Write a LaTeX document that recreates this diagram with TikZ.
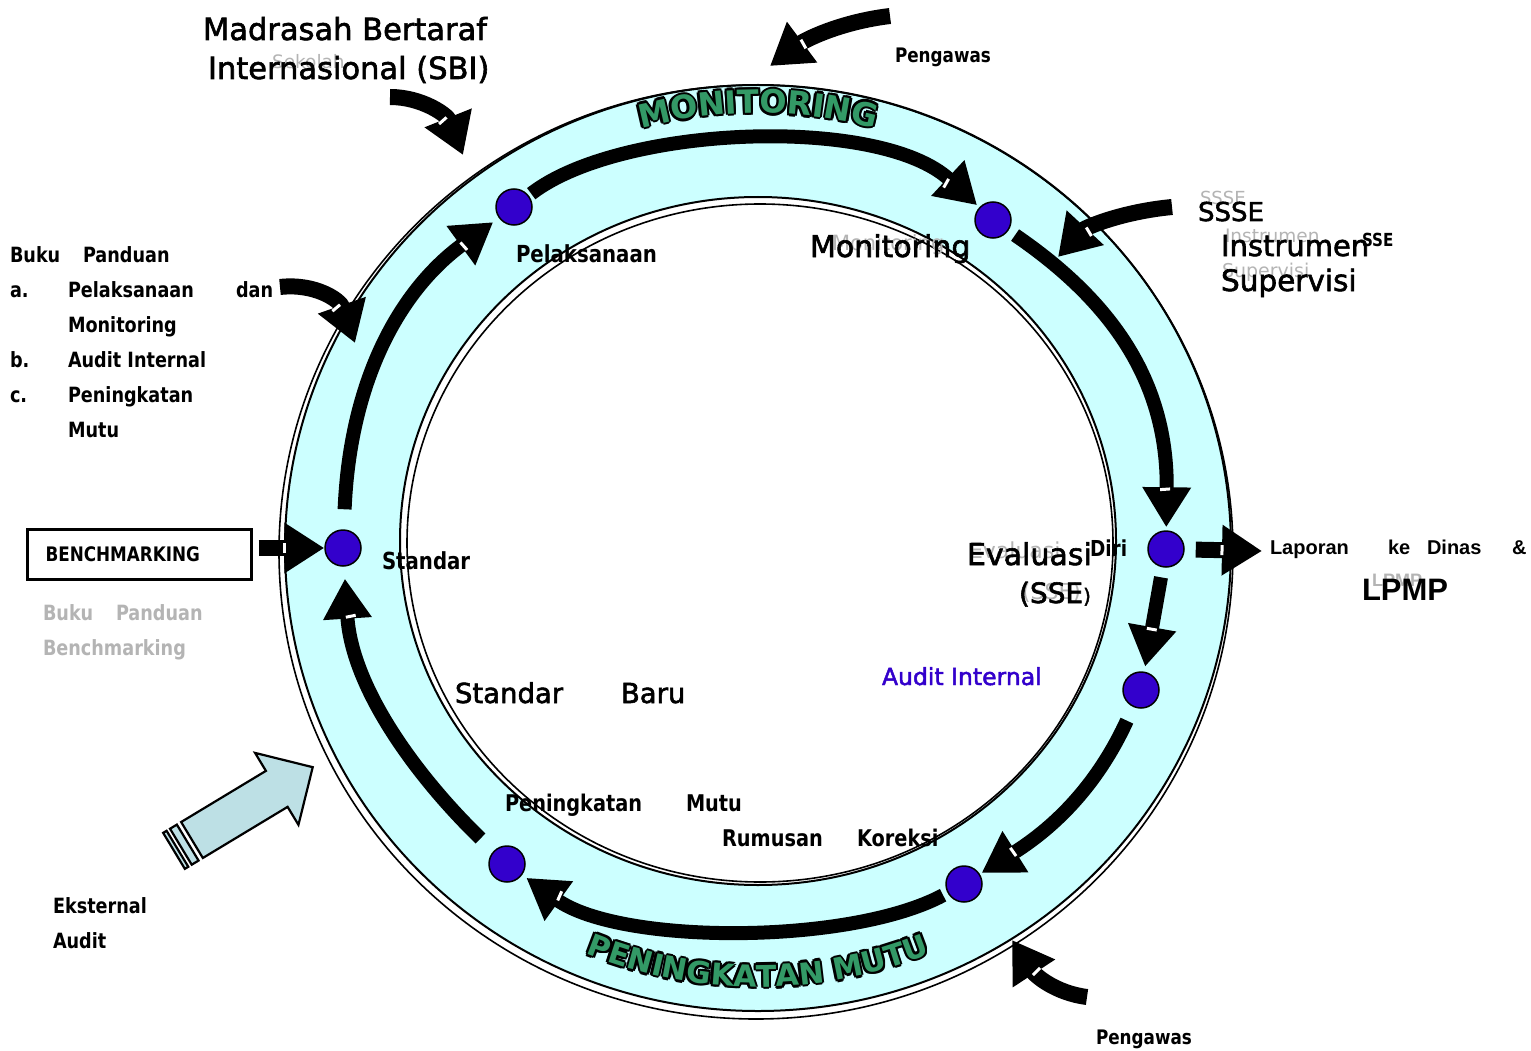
\documentclass[tikz,border=0pt]{standalone}
\usepackage{fontspec}
\setmainfont{DejaVu Sans}
\newfontfamily\regf{DejaVu Sans}[FakeBold=2]
\newfontfamily\boldf{DejaVu Sans}[FakeStretch=0.84]
\newfontfamily\arialf{Liberation Sans}
\usetikzlibrary{arrows.meta,decorations.text,decorations.markings}
\newcommand\fsz[1]{\fontsize{#1pt}{#1pt}\selectfont}
\definecolor{ringcyan}{HTML}{CCFFFF}
\definecolor{dotblue}{HTML}{3300CC}
\definecolor{ringgreen}{HTML}{339966}
\definecolor{extblue}{HTML}{BDE0E5}
\definecolor{ghostgray}{HTML}{B4B4B4}
\newcommand\ringtext[3]{%
  \foreach \dx/\dy in {2.3/0,-2.3/0,0/2.3,0/-2.3,1.7/1.7,-1.7/1.7,1.7/-1.7,-1.7/-1.7}{%
    \path[shift={(\dx,\dy)}, decorate, decoration={text along path, text align=center, text color=black,
      text={|\bfseries\fsz{#3}|#2}}] #1;}
  \path[decorate, decoration={text along path, text align=center, text color=ringgreen,
      text={|\bfseries\fsz{#3}|#2}}] #1;
}
\begin{document}
\begin{tikzpicture}[x=1pt,y=1pt,
  lbl/.style={anchor=base west, inner sep=0pt, outer sep=0pt},
  reg/.style={lbl, font=\regf\fsz{#1}},
  bld/.style={lbl, font=\boldf\bfseries\fsz{#1}},
  arl/.style={lbl, font=\arialf\bfseries\fsz{#1}},
  ghost/.style={lbl, text=ghostgray, font=\fsz{#1}},
  ghostb/.style={lbl, text=ghostgray, font=\boldf\bfseries\fsz{#1}},
  dot/.style={circle, fill=dotblue, draw=black, line width=1.5pt, minimum size=36pt, inner sep=0pt},
  flow/.style={line width=14pt, -{Triangle[length=40pt,width=46pt]}},
  feed/.style={line width=16pt, -{Triangle[length=40pt,width=48pt]}},
  notch/.style={postaction={decorate, decoration={markings,
      mark=at position #1 with {\fill[white] (-1.5pt,-5pt) rectangle (1.5pt,5pt);}}}},
  ringline/.style={line width=2pt},
]
\fill[white] (0,-1051) rectangle (1531,0);
\useasboundingbox (0,-1051) rectangle (1531,0);

% ring
\fill[ringcyan] (758,-548) ellipse[x radius=473, y radius=463];
\draw[ringline] (758,-548) ellipse[x radius=473, y radius=463];
\draw[line width=1.6pt] (756,-552) ellipse[x radius=477, y radius=467];
\fill[white] (758,-541) ellipse[x radius=358, y radius=344];
\draw[ringline] (758,-541) ellipse[x radius=358, y radius=344];
\draw[line width=1.6pt] (760,-543) ellipse[x radius=353, y radius=339];

% ring titles
\ringtext{(758,-548) ++(140:445 and 435) arc[start angle=140, end angle=40, x radius=445, y radius=435]}{MONITORING}{32}
\ringtext{(758,-548) ++(215:450 and 439) arc[start angle=215, end angle=325, x radius=450, y radius=439]}{PENINGKATAN MUTU}{30}

% cycle nodes
\node[dot] (std) at (343,-548) {};
\node[dot] (pel) at (514,-207) {};
\node[dot] (mon) at (993,-220) {};
\node[dot] (eva) at (1166,-549) {};
\node[dot] (aud) at (1141,-690) {};
\node[dot] (rum) at (964,-884) {};
\node[dot] (pen) at (507,-864) {};

% cycle arrows
\draw[flow, shorten <=20pt, shorten >=7pt, notch=-45pt] (std) .. controls (350,-380) and (400,-290) .. (pel);
\draw[flow, shorten <=3pt, shorten >=3pt, notch=-41pt] (pel) .. controls (620,-125) and (880,-115) .. (mon);
\draw[flow, shorten <=8pt, shorten >=3pt, notch=-41pt] (mon) .. controls (1110,-300) and (1168,-380) .. (eva);
\draw[flow, shorten <=10pt, shorten >=5pt, notch=-43pt] (eva) -- (aud);
\draw[flow, shorten <=15pt, shorten >=2pt, notch=-40pt] (aud) .. controls (1095,-790) and (1050,-830) .. (rum);
\draw[flow, shorten <=5pt, shorten >=5pt, notch=-43pt] (rum) .. controls (850,-945) and (620,-945) .. (pen);
\draw[flow, shorten <=18pt, shorten >=12pt, notch=-50pt] (pen) .. controls (420,-780) and (352,-690) .. (std);

% feeding arrows
\coordinate (sbiS) at (390,-97);   \coordinate (sbiE) at (463,-155);
\coordinate (pw1S) at (890,-16);   \coordinate (pw1E) at (770,-66);
\coordinate (sseS) at (1172,-207); \coordinate (sseE) at (1058,-257);
\coordinate (bukS) at (280,-287);  \coordinate (bukE) at (355,-343);
\coordinate (pw2S) at (1087,-997); \coordinate (pw2E) at (1012,-940);
\coordinate (lapE) at (1262,-551);
\draw[feed, notch=-40pt] (sbiS) .. controls (422,-97) and (447,-115) .. (sbiE);
\draw[feed, notch=-40pt] (pw1S) .. controls (840,-22) and (805,-40) .. (pw1E);
\draw[feed, notch=-40pt] (sseS) .. controls (1120,-212) and (1085,-228) .. (sseE);
\draw[feed, notch=-40pt] (bukS) .. controls (315,-283) and (340,-300) .. (bukE);
\draw[feed, notch=-40pt] (pw2S) .. controls (1055,-993) and (1035,-975) .. (pw2E);
\draw[feed, shorten <=11pt, notch=-40pt] (eva) -- (lapE);

% benchmarking box
\node[draw, line width=3pt, minimum width=224pt, minimum height=50pt, inner xsep=18.5pt,
  text width=187pt, align=left, font=\boldf\bfseries\fsz{20}, anchor=north west] (bm) at (25.5,-527.5) {BENCHMARKING};
\draw[feed, shorten <=6pt, notch=-40pt] (bm.east |- std) -- (std);

% external audit block arrow
\begin{scope}[shift={(192,-840)}, rotate=31.1, line width=2.2pt, line join=miter]
\filldraw[fill=extblue, draw=black] (0,-21) -- (99,-21) -- (99,-42) -- (141,0) -- (99,42) -- (99,21) -- (0,21) -- cycle;
\filldraw[fill=extblue, draw=black] (-13,-21) rectangle (-5,21);
\filldraw[fill=extblue, draw=black] (-21,-21) rectangle (-17,21);
\end{scope}

% texts
\node[ghost=18.5] (gsek) at (272,-69) {Sekolah};
\node[reg=30.5] (t1) at (203,-40) {Madrasah Bertaraf};
\node[reg=30.5] (t2) at (208,-79) {Internasional (SBI)};
\node[bld=20] (pgw1) at (895,-63) {Pengawas};

\node[bld=23.5] (lpel) at (516,-262) {Pelaksanaan};
\node[ghost=21] (gmon) at (832,-250) {Monitoring};
\node[reg=30] (lmon) at (810,-257) {Monitoring};

\node[ghost=18] (gsse) at (1200,-205) {SSSE};
\node[reg=26] (lssse) at (1198,-221) {SSSE};
\node[ghost=18.5] (gins) at (1225,-243) {Instrumen};
\node[reg=29] (lins) at (1221,-256) {Instrumen};
\node[bld=18] (lsse) at (1362,-246) {SSE};
\node[ghost=19] (gsup) at (1222,-277) {Supervisi};
\node[reg=29.5] (lsup) at (1221,-291) {Supervisi};

\node[bld=21] (b1) at (10,-262) {Buku};
\node[bld=21] (b2) at (83,-262) {Panduan};
\node[bld=21] (b3) at (10,-297) {a.};
\node[bld=21] (b4) at (68,-297) {Pelaksanaan};
\node[bld=21] (b5) at (236,-297) {dan};
\node[bld=21] (b6) at (68,-332) {Monitoring};
\node[bld=21] (b7) at (10,-367) {b.};
\node[bld=21] (b8) at (68,-367) {Audit Internal};
\node[bld=21] (b9) at (10,-402) {c.};
\node[bld=21] (b10) at (68,-402) {Peningkatan};
\node[bld=21] (b11) at (68,-437) {Mutu};

\node[ghostb=21] (gb1) at (43,-620) {Buku};
\node[ghostb=21] (gb2) at (116,-620) {Panduan};
\node[ghostb=21] (gb3) at (43,-655) {Benchmarking};

\node[bld=23.5] (lstd) at (382,-569) {Standar};

\node[ghost=22] (geva) at (969,-558) {Evaluasi};
\node[ghost=22] (gsse2) at (1022,-599) {(SSE)};
\node[reg=30] (leva) at (967,-565) {Evaluasi};
\node[bld=22] (ldiri) at (1090,-556) {Diri};
\node[reg=28] (lsse2) at (1019,-603) {(SSE{\fsz{20})}};

\node[arl=20] (lap1) at (1270,-554) {Laporan};
\node[arl=20] (lap2) at (1388,-554) {ke};
\node[arl=20] (lap3) at (1427,-554) {Dinas};
\node[arl=20] (lap4) at (1512,-554) {\&};
\node[lbl, text=ghostgray, font=\arialf\bfseries\fsz{18}] (glpmp) at (1372,-586) {LPMP};
\node[arl=31] (lpmp) at (1362,-600) {LPMP};

\node[reg=23.5, text=dotblue] (laud) at (882,-685) {Audit Internal};
\node[reg=27.5] (lsb1) at (455,-703) {Standar};
\node[reg=27.5] (lsb2) at (621,-703) {Baru};
\node[bld=23] (lpm1) at (505,-811) {Peningkatan};
\node[bld=23] (lpm2) at (686,-811) {Mutu};
\node[bld=23] (lrk1) at (722,-846) {Rumusan};
\node[bld=23] (lrk2) at (857,-846) {Koreksi};
\node[bld=21] (lek1) at (53,-913) {Eksternal};
\node[bld=21] (lek2) at (53,-948) {Audit};
\node[bld=20] (pgw2) at (1096,-1044) {Pengawas};
\end{tikzpicture}
\end{document}
